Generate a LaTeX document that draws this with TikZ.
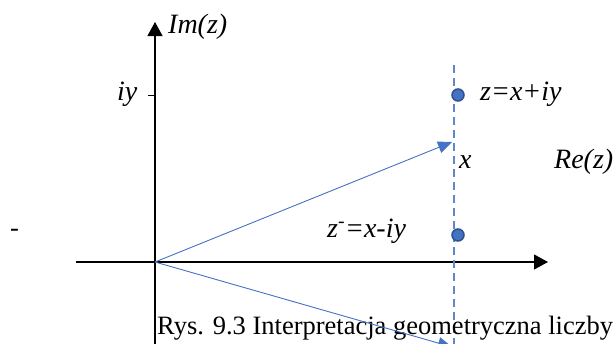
\documentclass[tikz,border=0pt]{standalone}
\usepackage{fontspec}
\setmainfont{Liberation Serif}
\usetikzlibrary{arrows.meta}
\definecolor{vecblue}{HTML}{4472C4}
\definecolor{dotedge}{HTML}{2F528F}

\begin{document}
\begin{tikzpicture}[
  x=1pt,y=-1pt,
  axisline/.style={-{Triangle[length=14pt,width=15pt]},line width=1.2pt},
  vector/.style={-{Triangle[length=14pt,width=12pt]},vecblue,line width=0.9pt},
  guide/.style={vecblue!85,dashed,dash pattern=on 8pt off 5pt,line width=1.3pt},
  dot/.style={circle,fill=vecblue,draw=dotedge,line width=1.5pt,inner sep=0pt,minimum size=12pt},
  mathlbl/.style={font=\fontsize{28}{30}\selectfont\itshape,inner sep=0pt,anchor=base west},
  caption/.style={font=\fontsize{26.5}{30}\selectfont,inner sep=0pt,anchor=base west}
]
  \useasboundingbox (0,0) rectangle (615,343);
  \clip (0,0) rectangle (615,343);
  \coordinate (O) at (155,262);
  \coordinate (Ytop) at (155,22);
  \coordinate (Ybot) at (155,350);
  \coordinate (Xleft) at (76,262);
  \coordinate (Xright) at (548,262);
  \coordinate (D1) at (454,65);
  \coordinate (D2) at (454,350);
  \coordinate (A) at (452,142);
  \coordinate (B) at (452,347);
  \coordinate (T) at (148,95);
  \draw[axisline] (Ybot) -- (Ytop);
  \draw[axisline] (Xleft) -- (Xright);
  \draw[line width=1pt] (T) -- (T -| O);
  \draw[guide] (D1) -- (D2);
  \node[caption] (cap) at (157,334) {Rys. 9.3 Interpretacja geometryczna liczby};
  \draw[vector] (O) -- (A);
  \draw[vector] (O) -- (B);
  \node[dot] (z) at (458,95) {};
  \node[dot] (zc) at (458,235) {};
  \node[mathlbl] (imz) at (168,33) {Im(z)};
  \node[mathlbl] (iy) at (117,100) {iy};
  \node[mathlbl] (zlbl) at (480,100) {z=x+iy};
  \node[mathlbl] (xlbl) at (459,168) {x};
  \node[mathlbl] (rez) at (554,168) {Re(z)};
  \node[mathlbl] (zclbl) at (327,237) {z\textsuperscript{-}=x-iy};
  \node[caption] (dash) at (10,236) {-};
\end{tikzpicture}
\end{document}
